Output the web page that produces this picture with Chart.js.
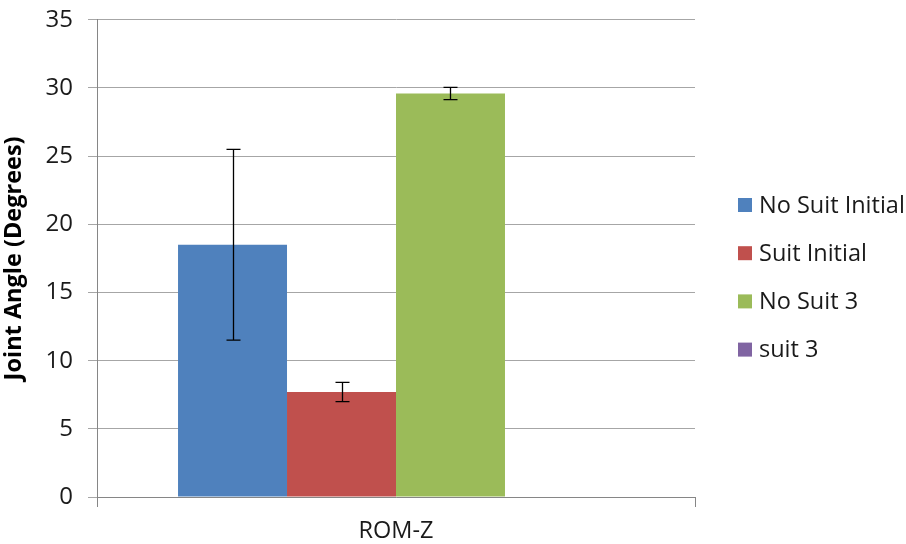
<!DOCTYPE html>
<html>
<head>
<meta charset="utf-8">
<script src="https://cdn.jsdelivr.net/npm/chart.js@4/dist/chart.umd.min.js"></script>
<style>
html,body{margin:0;padding:0;background:#fff;}
#c{display:block;}
</style>
</head>
<body>
<canvas id="c" width="906" height="544"></canvas>
<script>
const categories = ["ROM-Z"];
const seriesNames = ["No Suit Initial", "Suit Initial", "No Suit 3", "suit 3"];
const seriesValues = [[18.5], [7.7], [29.6], [null]];
const seriesErrors = [[7.0], [0.7], [0.45], [null]];
const seriesColors = ["#4F81BD", "#C0504D", "#9BBB59", "#8064A2"];
const yTicks = [0, 5, 10, 15, 20, 25, 30, 35];

const FONT = "'Open Sans', 'Noto Sans', sans-serif";
const TEXT = "#1a1a1a";

const errorBars = {
  id: 'errorBars',
  afterDatasetsDraw(chart) {
    const ctx = chart.ctx;
    const y = chart.scales.y;
    ctx.save();
    ctx.strokeStyle = "#000";
    ctx.lineWidth = 1.3;
    chart.data.datasets.forEach((ds, i) => {
      const meta = chart.getDatasetMeta(i);
      meta.data.forEach((bar, j) => {
        const v = ds.data[j], e = seriesErrors[i][j];
        if (v == null || e == null) return;
        const x = Math.round(bar.x) + 0.5;
        const yt = y.getPixelForValue(v + e);
        const yb = y.getPixelForValue(v - e);
        ctx.beginPath();
        ctx.moveTo(x, yt); ctx.lineTo(x, yb);
        ctx.moveTo(x - 7, yt); ctx.lineTo(x + 7, yt);
        ctx.moveTo(x - 7, yb); ctx.lineTo(x + 7, yb);
        ctx.stroke();
      });
    });
    ctx.restore();
  }
};

const sideLegend = {
  id: 'sideLegend',
  afterDraw(chart) {
    const ctx = chart.ctx;
    ctx.save();
    ctx.font = "23.5px " + FONT;
    ctx.textBaseline = "middle";
    chart.data.datasets.forEach((ds, i) => {
      const cy = 205 + i * 48.2;
      ctx.fillStyle = ds.backgroundColor;
      ctx.fillRect(738, cy - 7, 14, 14);
      ctx.fillStyle = TEXT;
      ctx.fillText(ds.label, 759, cy + 1);
    });
    ctx.restore();
  }
};

new Chart(document.getElementById('c'), {
  type: 'bar',
  data: {
    labels: categories,
    datasets: seriesNames.map((n, i) => ({
      label: n,
      data: seriesValues[i],
      backgroundColor: seriesColors[i],
      borderWidth: 0,
      barPercentage: 1.0,
      categoryPercentage: 0.729
    }))
  },
  options: {
    responsive: false,
    devicePixelRatio: 1,
    animation: false,
    layout: { padding: { top: 15, right: 211, left: 0, bottom: 0 } },
    plugins: { legend: { display: false }, tooltip: { enabled: false } },
    scales: {
      x: {
        offset: true,
        grid: { display: true, drawOnChartArea: false, offset: true, tickLength: 10, color: "#868686" },
        border: { color: "#868686", width: 1 },
        ticks: { font: { family: FONT, size: 23.5 }, color: TEXT, padding: 10 },
        afterFit(s) { s.height = 47; }
      },
      y: {
        min: 0, max: 35,
        afterBuildTicks(s) { s.ticks = yTicks.map(v => ({ value: v })); },
        grid: { color: "#A6A6A6", tickLength: 9, lineWidth: 1 },
        border: { color: "#868686", width: 1 },
        ticks: { font: { family: FONT, size: 24, lineHeight: 0.4 }, color: TEXT, padding: 15 },
        title: { display: true, text: "Joint Angle (Degrees)", font: { family: FONT, size: 23.5, weight: 'bold' }, color: "#000", padding: { top: 0, bottom: 4 } },
        afterFit(s) { s.width = 97; }
      }
    }
  },
  plugins: [errorBars, sideLegend]
});
</script>
</body>
</html>
